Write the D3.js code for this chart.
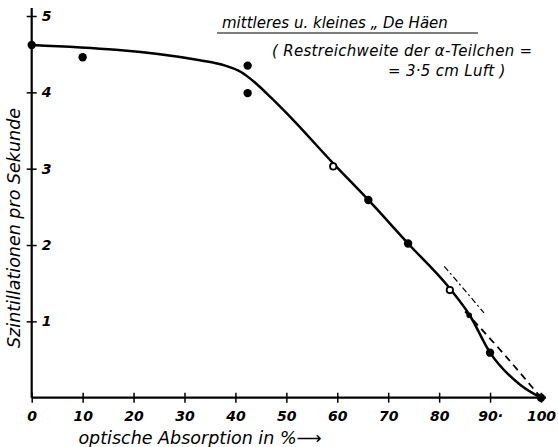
<!DOCTYPE html>
<html>
<head>
    <meta charset="utf-8">
    <style>
        body { margin: 0; background: white; }
        svg { display: block; }
        .lbl { font-family: 'DejaVu Sans', sans-serif; font-style: italic; fill: #000; }
    </style>
</head>
<body>
    <svg width="558" height="447"></svg>

<script src="https://d3js.org/d3.v7.min.js"></script>
<script>
    // measured points (optische Absorption %, Szintillationen pro Sekunde)
    let points = [
        [0, 4.62], [10, 4.46], [42.4, 4.35], [42.4, 3.99], [59.2, 3.03],
        [66.1, 2.59], [73.9, 2.02], [82.1, 1.41], [85.9, 1.08], [90, 0.59], [100, 0]
    ]
    // which markers are drawn as rings
    let rings = [59.2, 82.1]

    // the drawn curve
    let curve = [
        [0, 4.62], [33, 4.42], [38, 4.35], [41, 4.27], [44, 4.12],
        [47, 3.93], [50, 3.73], [59.2, 3.07], [66.1, 2.59], [73.9, 2.02],
        [82.1, 1.43], [86, 1.08], [90, 0.59], [95.9, 0.17], [100, 0]
    ]
    // dashed alternative at the end
    let dashed = [[85.1, 1.13], [92.6, 0.58], [100, 0]]
    let dashed2 = [[81, 1.72], [84.5, 1.45], [88.8, 1.11]]

    let xTicks = [0, 10, 20, 30, 40, 50, 60, 70, 80, 90, 100]
    let xLabels = ["0", "10", "20", "30", "40", "50", "60", "70", "80", "90·", "100"]
    let yTicks = [1, 2, 3, 4, 5]

    let svg = d3.select("svg")

    let x = d3.scaleLinear().domain([0, 100]).range([31.7, 541])
    let y = d3.scaleLinear().domain([0, 5]).range([397.7, 16])

    // x axis
    let xAxis = svg.append("g")
        .attr("transform", "translate(0," + y(0) + ")")
        .call(d3.axisBottom(x).tickValues(xTicks).tickSize(5)
            .tickFormat((d, i) => xLabels[i]))
    xAxis.select(".domain").remove()
    xAxis.selectAll("line").attr("y1", -5).attr("y2", 5)
        .attr("stroke", "#000").attr("stroke-width", 1.5)
    xAxis.selectAll("text")
        .attr("class", "lbl")
        .attr("y", 13).attr("dy", "0.71em")
        .style("font-size", "14px").style("font-weight", "bold")
        .attr("font-family", null)
        .attr("font-size", null)
    svg.append("line")
        .attr("x1", x(0)).attr("x2", x(100) + 5)
        .attr("y1", y(0)).attr("y2", y(0))
        .attr("stroke", "#000").attr("stroke-width", 2.2)

    // y axis
    let yAxis = svg.append("g")
        .attr("transform", "translate(" + x(0) + ",0)")
        .call(d3.axisRight(y).tickValues(yTicks).tickSize(5).tickFormat(d3.format("d")))
    yAxis.select(".domain").remove()
    yAxis.selectAll("line").attr("x1", -5).attr("x2", 5)
        .attr("stroke", "#000").attr("stroke-width", 1.5)
    yAxis.selectAll("text")
        .attr("class", "lbl")
        .attr("x", 10)
        .style("font-size", "14px").style("font-weight", "bold")
        .attr("font-family", null)
        .attr("font-size", null)
    svg.append("line")
        .attr("x1", x(0)).attr("x2", x(0))
        .attr("y1", y(0)).attr("y2", 8)
        .attr("stroke", "#000").attr("stroke-width", 2.2)

    // axis titles
    svg.append("text").attr("class", "lbl")
        .attr("x", 200).attr("y", 444)
        .attr("text-anchor", "middle")
        .style("font-size", "17.5px")
        .text("optische Absorption in %⟶")

    svg.append("text").attr("class", "lbl")
        .attr("transform", "translate(20,228) rotate(-90)")
        .attr("text-anchor", "middle")
        .style("font-size", "17.5px")
        .text("Szintillationen pro Sekunde")

    // legend / title text
    svg.append("text").attr("class", "lbl")
        .attr("x", 222).attr("y", 28)
        .style("font-size", "15px")
        .text("mittleres u. kleines „ De Häen")
    svg.append("line")
        .attr("x1", 217).attr("x2", 478).attr("y1", 33).attr("y2", 33)
        .attr("stroke", "#000").attr("stroke-width", 1.2)
    svg.append("text").attr("class", "lbl")
        .attr("x", 272).attr("y", 56)
        .style("font-size", "15px").style("letter-spacing", "0.3px")
        .text("( Restreichweite der α-Teilchen =")
    svg.append("text").attr("class", "lbl")
        .attr("x", 388).attr("y", 76)
        .style("font-size", "15px").style("letter-spacing", "0.3px")
        .text("= 3·5 cm Luft )")

    // lines
    let line = d3.line().x(d => x(d[0])).y(d => y(d[1]))

    svg.append("path")
        .attr("d", line.curve(d3.curveMonotoneX)(curve))
        .attr("fill", "none").attr("stroke", "#000").attr("stroke-width", 2.5)

    svg.append("path")
        .attr("d", line.curve(d3.curveMonotoneX)(dashed))
        .attr("fill", "none").attr("stroke", "#000").attr("stroke-width", 1.8)
        .attr("stroke-dasharray", "7,5")

    svg.append("path")
        .attr("d", line.curve(d3.curveMonotoneX)(dashed2))
        .attr("fill", "none").attr("stroke", "#000").attr("stroke-width", 1.2)
        .attr("stroke-dasharray", "6,3,2,3")

    // points
    svg.selectAll(".pt")
        .data(points)
        .join("circle")
        .attr("class", "pt")
        .attr("cx", d => x(d[0]))
        .attr("cy", d => y(d[1]))
        .attr("r", d => rings.includes(d[0]) ? 3.2 : (d[0] == 85.9 ? 2.8 : 4.2))
        .attr("fill", d => rings.includes(d[0]) ? "white" : "#000")
        .attr("stroke", "#000")
        .attr("stroke-width", d => rings.includes(d[0]) ? 1.8 : 0)
</script>
</body>
</html>
